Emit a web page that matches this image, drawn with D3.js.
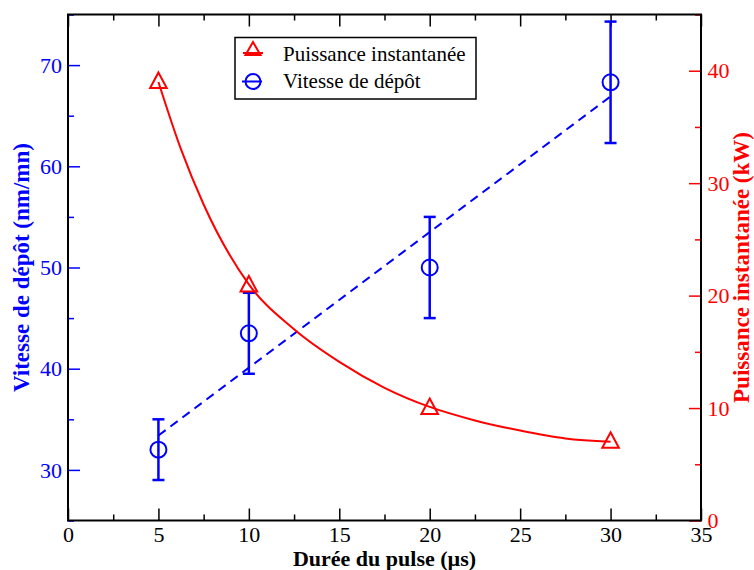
<!DOCTYPE html>
<html>
<head>
<meta charset="utf-8">
<script src="https://d3js.org/d3.v7.min.js"></script>
<style>
  body { margin: 0; background: #fff; }
  svg { display: block; font-family: "Liberation Serif", "DejaVu Serif", serif; }
</style>
</head>
<body>
<svg id="chart" width="754" height="570"></svg>
<script>
// durée du pulse (µs)
var pulse = [5, 10, 20, 30];
// vitesse de dépôt (nm/mn) with error bars
var vitesse = [32, 43.5, 50, 68.3];
var vitLow = [29, 39.5, 45, 62.3];
var vitHigh = [35, 47.5, 55, 74.3];
// dashed linear trend, read at its ends
var trendX = [5, 30];
var trendY = [33.4, 66.9];
// puissance instantanée (kW)
var puissance = [39, 20.9, 10, 7];
// smooth red curve
var curveX = [5, 6.25, 7.5, 10, 12.5, 15, 17.5, 20, 22.5, 25, 27.5, 30];
var curveY = [39, 33.0, 28.1, 21, 17, 14.1, 11.8, 10.1, 8.9, 8.0, 7.3, 7.0];

var xTicks = [0, 5, 10, 15, 20, 25, 30, 35];
var leftTicks = [30, 40, 50, 60, 70];
var rightTicks = [0, 10, 20, 30, 40];

var BLUE = '#0000ff', RED = '#ff0000';
var L = 68, R = 701, T = 14.5, B = 520.5;

var svg = d3.select('#chart');
var x = d3.scaleLinear().domain([0, 35]).range([L, R]);
var yL = d3.scaleLinear().domain([25, 75]).range([B, T]);
var yR = d3.scaleLinear().domain([0, 45]).range([B, T]);

function minors(a, b, step) {
  var out = [];
  for (var v = a; v <= b + 1e-9; v += step) out.push(v);
  return out;
}

// bottom axis (ticks inward)
var gB = svg.append('g').attr('transform', 'translate(0,' + B + ')')
  .call(d3.axisBottom(x).tickValues(xTicks).tickSizeInner(-12).tickSizeOuter(0).tickPadding(6));
gB.append('g').call(d3.axisBottom(x).tickValues(minors(2.5, 32.5, 5)).tickSize(-6).tickFormat(''));
// top axis
var gT = svg.append('g').attr('transform', 'translate(0,' + T + ')')
  .call(d3.axisTop(x).tickValues(xTicks).tickSizeInner(-12).tickSizeOuter(0).tickFormat(''));
gT.append('g').call(d3.axisTop(x).tickValues(minors(2.5, 32.5, 5)).tickSize(-6).tickFormat(''));

// left axis
var gL = svg.append('g').attr('transform', 'translate(' + L + ',0)')
  .call(d3.axisLeft(yL).tickValues(leftTicks).tickSizeInner(-12).tickSizeOuter(0).tickPadding(6));
gL.append('g').call(d3.axisLeft(yL).tickValues(minors(25, 75, 5).filter(function (v) { return v % 10 !== 0; })).tickSize(-6).tickFormat(''));
// right axis
var gR = svg.append('g').attr('transform', 'translate(' + R + ',0)')
  .call(d3.axisRight(yR).tickValues(rightTicks).tickSizeInner(-12).tickSizeOuter(0).tickPadding(6.5));
gR.append('g').call(d3.axisRight(yR).tickValues([5, 15, 25, 35, 45]).tickSize(-6).tickFormat(''));

svg.selectAll('.domain').remove();
svg.selectAll('.tick line').attr('stroke-width', 1.5);
gB.selectAll('.tick line').attr('stroke', '#000');
gT.selectAll('.tick line').attr('stroke', '#000');
gL.selectAll('.tick line').attr('stroke', BLUE);
gR.selectAll('.tick line').attr('stroke', RED);
svg.selectAll('g').attr('font-family', null);
svg.selectAll('.tick text').style('font-family', 'Liberation Serif').style('font-size', '22px');
gB.selectAll('.tick text').attr('fill', '#000');
gL.selectAll('.tick text').attr('fill', BLUE).attr('dy', '0.33em');
gR.selectAll('.tick text').attr('fill', RED).attr('dy', '0.33em');

// frame
svg.append('rect').attr('x', L).attr('y', T).attr('width', R - L).attr('height', B - T)
  .attr('fill', 'none').attr('stroke', '#000').attr('stroke-width', 2);

// dashed trend line
svg.append('path')
  .datum(d3.zip(trendX, trendY))
  .attr('d', d3.line().x(function (d) { return x(d[0]); }).y(function (d) { return yL(d[1]); }))
  .attr('fill', 'none').attr('stroke', BLUE).attr('stroke-width', 2).attr('stroke-dasharray', '9,6');

// red curve
svg.append('path')
  .datum(d3.zip(curveX, curveY))
  .attr('d', d3.line().curve(d3.curveMonotoneX).x(function (d) { return x(d[0]); }).y(function (d) { return yR(d[1]); }))
  .attr('fill', 'none').attr('stroke', RED).attr('stroke-width', 2);

// error bars
var eb = svg.append('g').attr('stroke', BLUE).attr('stroke-width', 2.5);
pulse.forEach(function (p, i) {
  var cx = x(p);
  eb.append('line').attr('x1', cx).attr('x2', cx).attr('y1', yL(vitLow[i])).attr('y2', yL(vitHigh[i]));
  eb.append('line').attr('x1', cx - 6).attr('x2', cx + 6).attr('y1', yL(vitLow[i])).attr('y2', yL(vitLow[i]));
  eb.append('line').attr('x1', cx - 6).attr('x2', cx + 6).attr('y1', yL(vitHigh[i])).attr('y2', yL(vitHigh[i]));
});

// circles
svg.append('g').selectAll('circle').data(pulse).join('circle')
  .attr('cx', function (d) { return x(d); })
  .attr('cy', function (d, i) { return yL(vitesse[i]); })
  .attr('r', 8).attr('fill', 'none').attr('stroke', BLUE).attr('stroke-width', 2);

// triangles
var tri = 'M0,-9.5L8.3,6L-8.3,6Z';
svg.append('g').selectAll('path').data(pulse).join('path')
  .attr('d', tri)
  .attr('transform', function (d, i) { return 'translate(' + x(d) + ',' + yR(puissance[i]) + ')'; })
  .attr('fill', 'none').attr('stroke', RED).attr('stroke-width', 2);

// legend
var lg = svg.append('g');
lg.append('rect').attr('x', 235).attr('y', 37.5).attr('width', 241).attr('height', 61.5)
  .attr('fill', '#fff').attr('stroke', '#000').attr('stroke-width', 1.5);
lg.append('line').attr('x1', 243).attr('x2', 263).attr('y1', 53).attr('y2', 53).attr('stroke', RED).attr('stroke-width', 2);
lg.append('path').attr('d', 'M0,-8L7.5,5L-7.5,5Z').attr('transform', 'translate(253,50)')
  .attr('fill', 'none').attr('stroke', RED).attr('stroke-width', 2);
lg.append('line').attr('x1', 242).attr('x2', 262).attr('y1', 81.5).attr('y2', 81.5).attr('stroke', BLUE).attr('stroke-width', 2);
lg.append('circle').attr('cx', 253).attr('cy', 81.5).attr('r', 7.5)
  .attr('fill', 'none').attr('stroke', BLUE).attr('stroke-width', 2);
lg.append('text').attr('x', 283).attr('y', 60.5).attr('font-size', 21).attr('fill', '#000').text('Puissance instantanée');
lg.append('text').attr('x', 283).attr('y', 87.5).attr('font-size', 21).attr('fill', '#000').text('Vitesse de dépôt');

// axis titles
svg.append('text').attr('x', (L + R) / 2).attr('y', 566).attr('text-anchor', 'middle')
  .attr('font-size', 22).attr('font-weight', 'bold').attr('fill', '#000')
  .text('Durée du pulse (µs)');
svg.append('text').attr('transform', 'translate(29,' + (T + B) / 2 + ') rotate(-90)')
  .attr('text-anchor', 'middle').attr('font-size', 23).attr('font-weight', 'bold').attr('fill', BLUE)
  .text('Vitesse de dépôt (nm/mn)');
svg.append('text').attr('transform', 'translate(749,' + (T + B) / 2 + ') rotate(-90)')
  .attr('text-anchor', 'middle').attr('font-size', 23).attr('font-weight', 'bold').attr('fill', RED)
  .text('Puissance instantanée (kW)');
</script>
</body>
</html>
